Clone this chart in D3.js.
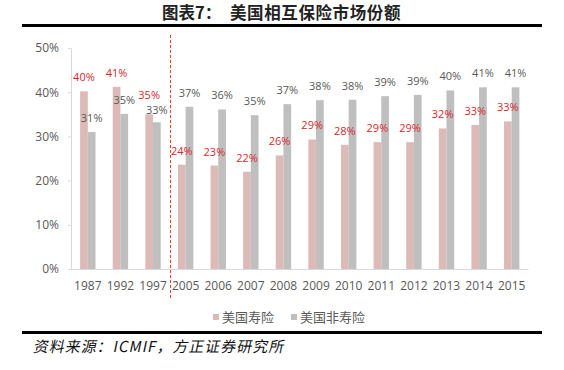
<!DOCTYPE html>
<html>
<head>
<meta charset="utf-8">
<script src="https://cdn.jsdelivr.net/npm/d3@7"></script>
<style>
  body { margin: 0; background: #fff; }
  svg { display: block; }
</style>
</head>
<body>
<div id="grafico"></div>
<script>
// Datos
const years = ["1987", "1992", "1997", "2005", "2006", "2007", "2008", "2009", "2010", "2011", "2012", "2013", "2014", "2015"];
const lifeShare = [40.2, 41.2, 35.0, 23.6, 23.4, 22.0, 25.7, 29.3, 28.1, 28.7, 28.7, 31.8, 32.6, 33.4];
const nonLifeShare = [31.0, 35.1, 33.2, 36.7, 36.1, 34.8, 37.3, 38.2, 38.3, 39.1, 39.4, 40.4, 41.1, 41.1];
const seriesNames = ["美国寿险", "美国非寿险"];
const yTicks = [0, 10, 20, 30, 40, 50];
const titleLabel = "图表7：";
const title = "美国相互保险市场份额";
const source = "资料来源：ICMIF，方正证券研究所";

const W = 564, H = 370;
const colors = ["#dbbab8", "#bfbfbf"];
const labelColors = ["#d9262c", "#595959"];
const fontNum = "'Open Sans', 'Liberation Sans', sans-serif";
const fontCJK = "'Noto Sans CJK SC', sans-serif";

const svg = d3.select("#grafico")
    .append("svg")
    .attr("width", W)
    .attr("height", H);

// Titulo y reglas
const t = svg.append("text")
    .attr("y", 19)
    .style("font-family", fontCJK)
    .style("font-weight", "bold")
    .style("font-size", "16.5px")
    .attr("fill", "#222");
t.append("tspan").attr("x", 162).text(titleLabel);
t.append("tspan").attr("x", 230).style("letter-spacing", "0.6px").text(title);

svg.append("rect").attr("x", 22).attr("y", 24).attr("width", 520).attr("height", 3).attr("fill", "#000");
svg.append("rect").attr("x", 22).attr("y", 331).attr("width", 520).attr("height", 3).attr("fill", "#000");

svg.append("text")
    .attr("x", 33)
    .attr("y", 352)
    .style("font-family", fontCJK)
    .style("font-size", "15px")
    .style("letter-spacing", "1px")
    .attr("transform", "skewX(-12) translate(74.5,0)")
    .attr("fill", "#111")
    .text(source);

// Escalas
const x = d3.scaleBand()
    .domain(years)
    .range([71.5, 528])
    .paddingInner(0)
    .paddingOuter(0);

const groupW = 15.4;
const xSub = d3.scaleBand()
    .domain([0, 1])
    .range([0, groupW]);

const y = d3.scaleLinear()
    .domain([0, 50])
    .range([269, 48]);

// Eje Y
const yAxis = svg.append("g")
    .attr("transform", "translate(71,0)")
    .call(d3.axisLeft(y).tickValues(yTicks).tickFormat(d => d + "%").tickSize(3).tickPadding(9));
yAxis.select(".domain").attr("stroke", "#d9d9d9");
yAxis.selectAll(".tick line").attr("stroke", "#d9d9d9");
yAxis.selectAll("text")
    .style("font-family", fontNum)
    .style("font-size", "12px")
    .attr("fill", "#595959");

// Barras
const data = years.map((yr, i) => ({ year: yr, vals: [lifeShare[i], nonLifeShare[i]] }));

const groups = svg.selectAll(".grupo")
    .data(data)
    .enter()
    .append("g")
    .attr("class", "grupo")
    .attr("transform", d => `translate(${x(d.year) + x.bandwidth() / 2 - groupW / 2},0)`);

groups.selectAll("rect")
    .data(d => d.vals.map((v, k) => ({ v, k })))
    .enter()
    .append("rect")
    .attr("x", d => xSub(d.k))
    .attr("width", xSub.bandwidth())
    .attr("y", d => y(d.v))
    .attr("height", d => y(0) - y(d.v))
    .attr("fill", d => colors[d.k]);

// Etiquetas: si las dos chocan, bajar un poco la gris y subir la roja
function labelY(d, vals) {
    const redY = y(vals[0]) - 10;
    const grayY = y(vals[1]) - 10;
    const clash = grayY >= redY && grayY - redY < 15;
    if (!clash) return d.k === 0 ? redY : grayY;
    return d.k === 1 ? grayY + 1.5 : grayY + 1.5 - 15;
}

groups.selectAll("text")
    .data(d => d.vals.map((v, k) => ({ v, k, vals: d.vals })))
    .enter()
    .append("text")
    .attr("x", d => xSub(d.k) + xSub.bandwidth() / 2)
    .attr("y", d => labelY(d, d.vals))
    .attr("text-anchor", "middle")
    .style("font-family", fontNum)
    .style("font-size", "11px")
    .attr("fill", d => labelColors[d.k])
    .text(d => Math.round(d.v) + "%");

// Eje X
const xAxis = svg.append("g")
    .attr("transform", "translate(0,269)")
    .call(d3.axisBottom(x).tickSize(0).tickPadding(12));
xAxis.select(".domain").attr("stroke", "#d9d9d9");
xAxis.selectAll("text")
    .style("font-family", fontNum)
    .style("font-size", "12px")
    .attr("fill", "#595959");

// Linea divisoria
svg.append("line")
    .attr("x1", 170.5).attr("x2", 170.5)
    .attr("y1", 35).attr("y2", 300)
    .attr("stroke", "#ff3333")
    .attr("stroke-width", 1)
    .attr("stroke-dasharray", "3,2");

// Leyenda
const legendX = [213, 291];
const legend = svg.selectAll(".leyenda")
    .data(seriesNames)
    .enter()
    .append("g")
    .attr("class", "leyenda")
    .attr("transform", (d, i) => `translate(${legendX[i]},317)`);

legend.append("rect")
    .attr("x", 0).attr("y", -3)
    .attr("width", 6).attr("height", 6)
    .attr("fill", (d, i) => colors[i]);

legend.append("text")
    .attr("x", 9)
    .attr("y", 5)
    .style("font-family", fontCJK)
    .style("font-size", "13px")
    .attr("fill", "#595959")
    .text(d => d);
</script>
</body>
</html>
